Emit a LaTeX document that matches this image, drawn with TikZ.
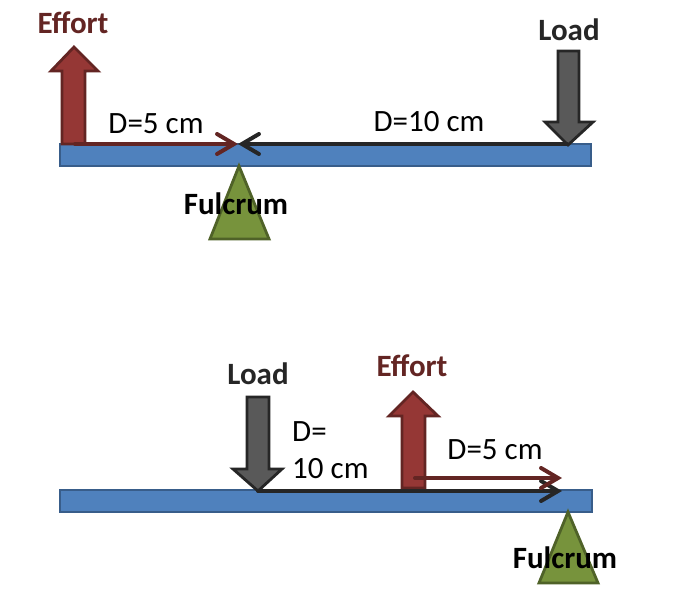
\documentclass[tikz,border=0pt]{standalone}
\usepackage{fontspec}
\setmainfont{Carlito}
\usetikzlibrary{arrows.meta}
\definecolor{beamfill}{HTML}{4F81BD}
\definecolor{beamline}{HTML}{385D8A}
\definecolor{efffill}{HTML}{953735}
\definecolor{effline}{HTML}{632523}
\definecolor{loadfill}{HTML}{595959}
\definecolor{loadline}{HTML}{262626}
\definecolor{fulfill}{HTML}{77933C}
\definecolor{fulline}{HTML}{4F6228}
\tikzset{
  beam/.style={fill=beamfill,draw=beamline,line width=2.8pt},
  effarrow/.style={fill=efffill,draw=effline,line width=2.8pt,line join=miter},
  loadarrow/.style={fill=loadfill,draw=loadline,line width=2.8pt,line join=miter},
  fulcrumtri/.style={fill=fulfill,draw=fulline,line width=2.8pt},
  boldlabel/.style={font=\fontsize{31}{33}\selectfont\bfseries,inner sep=0pt},
  distlabel/.style={font=\fontsize{31}{37}\selectfont,inner sep=0pt},
  reddist/.style={draw=effline,line width=4pt,line cap=round,-{Straight Barb[length=17pt,width=20pt,line cap=round]}},
  blackdist/.style={draw=loadline,line width=4pt,line cap=round,-{Straight Barb[length=17pt,width=20pt,line cap=round]}},
}
\begin{document}
\begin{tikzpicture}[x=1pt,y=-1pt]
\useasboundingbox (0,0) rectangle (682,602);
% ---------- top lever ----------
\draw[beam] (60,144) rectangle (591,166);
\draw[effarrow] (62,144) -- (62,71) -- (51,71) -- (74,47) -- (98,71) -- (85,71) -- (85,144) -- cycle;
\draw[loadarrow] (558,51) -- (579,51) -- (579,122) -- (593,122) -- (568,145) -- (545,122) -- (558,122) -- cycle;
\draw[fulcrumtri] (239,166) -- (269,239) -- (210,239) -- cycle;
\coordinate (effBaseT) at (75,144);
\coordinate (pivotT) at (238,144);
\coordinate (loadTipT) at (567,144);
\draw[reddist] (effBaseT) -- (pivotT);
\draw[blackdist] (loadTipT) -- (pivotT);
\node[boldlabel,text=effline] (effortT) at (73,23) {Effort};
\node[boldlabel,text=loadline] (loadT) at (569,30) {Load};
\node[boldlabel] (fulcrumT) at (236,204) {Fulcrum};
\node[distlabel] (d5T) at (156,124) {D=5 cm};
\node[distlabel] (d10T) at (429,122) {D=10 cm};
% ---------- bottom lever ----------
\draw[beam] (60,490) rectangle (592,512);
\draw[loadarrow] (247,397) -- (269,397) -- (269,469) -- (282,469) -- (258,491) -- (233,469) -- (247,469) -- cycle;
\draw[effarrow] (402,488) -- (402,416) -- (389,416) -- (413,392) -- (438,416) -- (425,416) -- (425,488) -- cycle;
\draw[fulcrumtri] (568,512) -- (598,583) -- (539,583) -- cycle;
\coordinate (loadTipB) at (258,491);
\coordinate (endB) at (562,491);
\coordinate (effBaseB) at (415,478);
\coordinate (endRB) at (562,478);
\draw[blackdist] (loadTipB) -- (endB);
\draw[reddist] (effBaseB) -- (endRB);
\node[boldlabel,text=loadline] (loadB) at (258,374) {Load};
\node[boldlabel,text=effline] (effortB) at (412,366) {Effort};
\node[boldlabel] (fulcrumB) at (565,558) {Fulcrum};
\node[distlabel,anchor=west,align=left] (d10B) at (292,450) {D=\\10 cm};
\node[distlabel] (d5B) at (495,450) {D=5 cm};
\end{tikzpicture}
\end{document}
